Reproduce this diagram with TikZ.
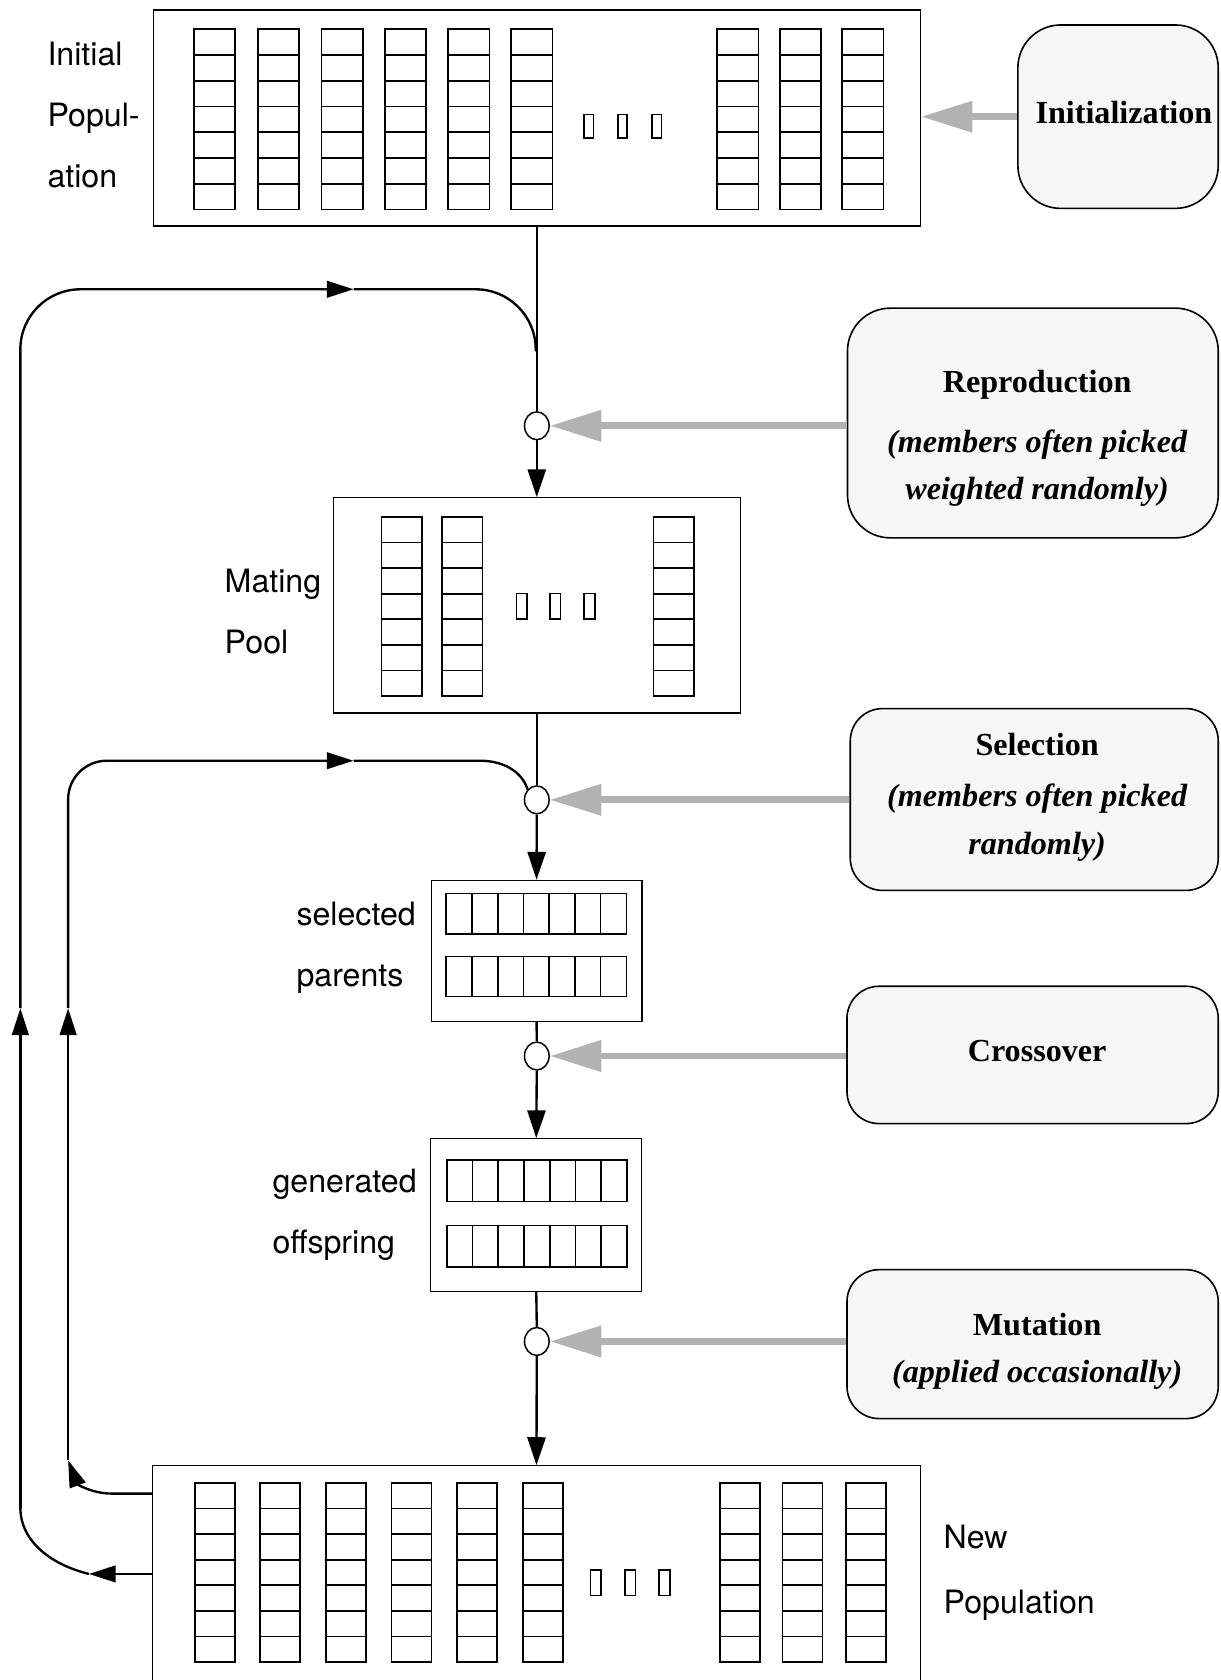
\documentclass[tikz,border=0pt]{standalone}
\usepackage{fontspec}
\setmainfont{Liberation Serif}
\newfontfamily\labelfont{TeX Gyre Heros}
\usetikzlibrary{arrows.meta,shapes.geometric}

\definecolor{opgray}{RGB}{178,178,178}
\definecolor{opfill}{RGB}{246,246,246}

\tikzset{every picture/.style={line width=0.75pt}}
\tikzset{
	popbox/.style={draw, line width=0.6pt, inner sep=0pt},
	cellline/.style={line width=0.8pt},
	dotbox/.style={line width=0.8pt},
	junction/.style={draw, ellipse, fill=white, line width=0.7pt, minimum width=11.5pt, minimum height=13pt, inner sep=0pt},
	flow/.style={line width=1.1pt},
	flowarrow/.style={flow, -{Triangle[length=13pt,width=8.5pt]}},
	looparrow/.style={flow, -{Triangle[length=12.5pt,width=7.75pt]}},
	oparrow/.style={color=opgray, line width=3.25pt, -{Triangle[length=24pt,width=14pt]}},
	opbox/.style={draw, line width=0.75pt, fill=opfill, rounded corners=15pt, inner sep=0pt},
	optext/.style={font=\fontsize{15}{22}\selectfont\bfseries\itshape, align=center, inner sep=0pt},
	poplabel/.style={font=\labelfont\fontsize{15}{28.5}\selectfont, align=left, inner sep=0pt, anchor=base west}}

\begin{document}
\begin{tikzpicture}[x=0.5pt,y=0.5pt,yscale=-1]
	\clip (0,0) rectangle (1139,1568);
	
	%Population boxes
	\node [popbox, minimum width=358pt, minimum height=100.85pt] (initpop) at (501,110.2) {};
	\node [popbox, minimum width=190pt, minimum height=100.4pt] (matpool) at (501,565) {};
	\node [popbox, minimum width=98.4pt, minimum height=65.8pt] (selpar) at (500.8,887.4) {};
	\node [popbox, minimum width=98.5pt, minimum height=71.1pt] (genoff) at (500.5,1134) {};
	\node [popbox, minimum width=358.1pt, minimum height=116pt] (newpop) at (500.7,1484) {};
	
	%Chromosome columns
	\foreach \cx in {181,240.7,300.1,359.2,418.3,477.2,669.4,728,786}{
		\draw [cellline] (\cx,27.4) rectangle ++(38.5,168);
		\foreach \k in {1,...,6} \draw [cellline] (\cx,27.4+24*\k) -- ++(38.5,0);
	}
	\foreach \cx in {356,412.5,610}{
		\draw [cellline] (\cx,482.4) rectangle ++(37.7,167.4);
		\foreach \k in {1,...,6} \draw [cellline] (\cx,482.4+23.91*\k) -- ++(37.7,0);
	}
	\foreach \cx in {182,242.8,304.5,365.4,426.7,488.4,672.2,730.3,789.3}{
		\draw [cellline] (\cx,1384) rectangle ++(37.3,167.4);
		\foreach \k in {1,...,6} \draw [cellline] (\cx,1384+23.91*\k) -- ++(37.3,0);
	}
	%Chromosome rows
	\foreach \ry in {834,892.6}{
		\draw [cellline] (416.5,\ry) rectangle ++(168.1,37.4);
		\foreach \k in {1,...,6} \draw [cellline] (416.5+24.01*\k,\ry) -- ++(0,37.4);
	}
	\foreach \ry in {1082.4,1143.7}{
		\draw [cellline] (417,\ry) rectangle ++(168,38.9);
		\foreach \k in {1,...,6} \draw [cellline] (417+24*\k,\ry) -- ++(0,38.9);
	}
	
	%Ellipsis marks
	\foreach \dx in {549.5,581,613} \draw [dotbox] (\dx-4.5,107) rectangle ++(9,22);
	\foreach \dx in {487,518,550} \draw [dotbox] (\dx-5,554) rectangle ++(10,24);
	\foreach \dx in {556,588,620} \draw [dotbox] (\dx-5,1465) rectangle ++(10,24);
	
	% Text Node
	\node [poplabel] (initlabel) at (43.6,175) {Initial\\Popul-\\ation};
	% Text Node
	\node [poplabel] (matlabel) at (209,610) {Mating\\Pool};
	% Text Node
	\node [poplabel] (sellabel) at (276,921) {selected\\parents};
	% Text Node
	\node [poplabel] (genlabel) at (253.6,1170) {generated\\offspring};
	% Text Node
	\node [poplabel] (newlabel) at (880,1506) {New\\[2pt]Population};
	
	%Operator boxes
	\node [opbox, rounded corners=20pt, minimum width=93.5pt, minimum height=85.6pt] (initbox) at (1043.5,108.9) {};
	\node [opbox, rounded corners=20pt, minimum width=173pt, minimum height=107.2pt] (repbox) at (964,394.8) {};
	\node [opbox, minimum width=171.7pt, minimum height=84.85pt] (selbox) at (965.3,746.2) {};
	\node [opbox, minimum width=173.25pt, minimum height=64.1pt] (crossbox) at (963.75,984.6) {};
	\node [opbox, minimum width=173.25pt, minimum height=69.5pt] (mutbox) at (963.75,1254.5) {};
	
	% Text Node
	\node [optext, anchor=base] (inittext) at (1049,115) {\textup{Initialization}};
	% Text Node
	\node [optext] (reptext) at (968,409) {\textup{Reproduction}\\[6pt](members often picked\\weighted randomly)};
	% Text Node
	\node [optext] (seltext) at (968,744) {\textup{Selection}\\[2pt](members often picked\\randomly)};
	% Text Node
	\node [optext, anchor=base] (crosstext) at (968,991) {\textup{Crossover}};
	% Text Node
	\node [optext] (muttext) at (968,1261) {\textup{Mutation}\\(applied occasionally)};
	
	%Junctions
	\node [junction] (c1) at (501,397.4) {};
	\node [junction] (c2) at (501,746.5) {};
	\node [junction] (c3) at (501,985.6) {};
	\node [junction] (c4) at (501,1252) {};
	
	%Main flow
	\draw [flow] (initpop.south) -- (c1.north);
	\draw [flowarrow] (c1.south) -- (matpool.north);
	\draw [flow] (matpool.south) -- (c2.north);
	\draw [flowarrow] (c2.south) -- (selpar.north);
	\draw [flow] (selpar.south) -- (c3.north);
	\draw [flowarrow] (c3.south) -- (genoff.north);
	\draw [flow] (genoff.south) -- (c4.north);
	\draw [flowarrow] (c4.south) -- (newpop.north);
	
	%Operator arrows
	\draw [oparrow] (initbox.west) -- (initbox.west -| initpop.east);
	\draw [oparrow] (repbox.west |- c1) -- (c1.east);
	\draw [oparrow] (selbox.west |- c2) -- (c2.east);
	\draw [oparrow] (crossbox.west |- c3) -- (c3.east);
	\draw [oparrow] (mutbox.west |- c4) -- (c4.east);
	
	%Outer loop
	\coordinate (outtip) at (83,1469);
	\coordinate (outbend) at (19,1407);
	\coordinate (outup) at (19,941);
	\coordinate (outtop) at (19,270);
	\coordinate (outmid) at (330,270);
	\coordinate (outjoin) at (500,270);
	\coordinate (outend) at (500,328);
	\draw [looparrow] (newpop.west |- outtip) -- (outtip);
	\draw [flow] (outtip) .. controls (50,1461) and (19,1440) .. (outbend);
	\draw [looparrow] (outbend) -- (outup);
	\draw [looparrow, rounded corners=28pt] (outup) -- (outtop) -- (outmid);
	\draw [flow, rounded corners=28pt] (outmid) -- (outjoin) -- (outend);
	
	%Inner loop
	\coordinate (inbase) at (104,1394);
	\coordinate (intip) at (63.6,1363);
	\coordinate (inup) at (63.6,941);
	\coordinate (intop) at (63.6,710);
	\coordinate (inmid) at (330,710);
	\coordinate (inbend) at (448,710);
	\draw [looparrow] (newpop.west |- inbase) -- (inbase) .. controls (86,1394) and (72,1385) .. (intip);
	\draw [looparrow] (intip) -- (inup);
	\draw [looparrow, rounded corners=18pt] (inup) -- (intop) -- (inmid);
	\draw [flow] (inmid) -- (inbend) .. controls (472,710) and (488,722) .. (c2.north west);
	
\end{tikzpicture}
\end{document}
